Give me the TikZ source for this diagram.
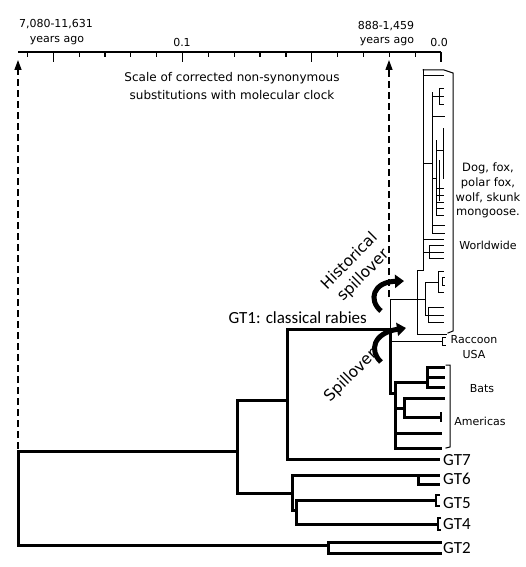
\documentclass[tikz,border=0pt]{standalone}
\usepackage{fontspec}
\setmainfont{DejaVu Sans}
\newfontfamily\gtfont{Carlito}
\usetikzlibrary{arrows.meta}
\begin{document}
\begin{tikzpicture}[x=1pt,y=-1pt,
  thk/.style={line width=3pt,line cap=rect,line join=miter},
  thn/.style={line width=1pt,line cap=rect},
  axisline/.style={line width=1.4pt},
  dasharrow/.style={line width=1.3pt,dash pattern=on 7pt off 4pt,-{Triangle[length=10pt,width=7pt]}},
  spill/.style={line width=5pt,-{Triangle[length=9pt,width=13pt]}},
  lbl/.style={font=\fontsize{11}{11.8}\selectfont,inner sep=0pt,align=center},
  gt/.style={font=\gtfont\fontsize{17}{19}\selectfont,anchor=west,inner sep=0pt},
  rot/.style={font=\fontsize{15.5}{20}\selectfont,inner sep=0pt,align=center,rotate=45}]
\useasboundingbox (0,0) rectangle (525,567);
% axis
\draw[axisline] (18,52) -- (441,52);
\foreach \i in {1,...,16} {\draw[line width=1.2pt] ({441-25.85*\i},52) -- ++(0,5);}
\foreach \i in {0,5,10,15} {\draw[line width=1.2pt] ({441-25.85*\i},52) -- ++(0,10);}
\node[lbl] (a1) at (56,24) {7,080-11,631};
\node[lbl] (a2) at (57,41) {years ago};
\node[lbl] (a3) at (182,42) {0.1};
\node[lbl] (a4) at (386,26) {888-1,459};
\node[lbl] (a5) at (387,42) {years ago};
\node[lbl] (a6) at (439,42) {0.0};
\node[lbl,font=\fontsize{12}{18}\selectfont] (scale) at (232,86) {Scale of corrected non-synonymous\\substitutions with molecular clock};
% dashed arrows
\coordinate (lb) at (18,449); \coordinate (lt) at (18,60);
\coordinate (rb) at (389,297); \coordinate (rt) at (389,60);
\draw[dasharrow] (lb) -- (lt);
\draw[dasharrow] (rb) -- (rt);
% main tree
\draw[thk] (237,451) -- (18,451) -- (18,545) -- (328,545);
\draw[thk] (440,542) -- (328,542) -- (328,553) -- (440,553);
\draw[thk] (287,400) -- (237,400) -- (237,493) -- (292,493);
\draw[thk] (438,459) -- (287,459) -- (287,329) -- (390,329) -- (390,393) -- (395,393);
\draw[thk] (438,475) -- (292,475) -- (292,510) -- (296,510);
\draw[thk] (418,475) -- (418,484) -- (438,484);
\draw[thk] (435,500) -- (296,500) -- (296,524) -- (437,524);
\draw[line width=2.5pt] (440,495) -- (436,495) -- (436,506) -- (440,506);
\draw[line width=2.5pt] (441,518) -- (438,518) -- (438,530) -- (441,530);
% bats
\draw[thk] (427,382) -- (395,382) -- (395,448) -- (440,448);
\draw[thk] (443,367) -- (427,367) -- (427,387) -- (443,387);
\draw[thk] (427,377) -- (443,377);
\draw[thk] (395,408) -- (404,408);
\draw[thk] (443,398) -- (404,398) -- (404,417) -- (440,417);
\draw[line width=2.5pt] (441,412) -- (441,422);
\draw[thk] (395,433) -- (440,433);
\draw[thn] (446,365) -- (450,365) -- (450,447) -- (446,448);
% raccoon
\draw[thn] (390,299) -- (390,329);
\draw[thn] (390,341) -- (442,341);
\draw[thn] (445,337) -- (442,337) -- (442,345) -- (445,345);
% worldwide clade
\draw[thn] (390,299) -- (425,299);
\draw[thn] (417,270) -- (417,334) -- (446,334);
\draw[thn] (417,270) -- (423,270);
\draw[thn] (423,70) -- (423,270);
\draw[thn] (423,70) -- (444,70) -- (453,73) -- (453,331) -- (448,333);
\draw[thn] (423,76) -- (443,76);
\draw[thn] (423,163) -- (432,163);
\draw[thn] (432,93) -- (432,233);
\draw[thn] (432,97) -- (443,97);
\draw[thn] (443,89) -- (439,89) -- (439,105) -- (443,105);
\draw[thn] (432,117) -- (444,117);
\draw[thn] (436,150) -- (443,150);
\draw[thn] (443,128) -- (443,178);
\draw[thn] (432,178) -- (436,178);
\draw[thn] (436,140) -- (436,215);
\draw[thn] (439,160) -- (439,200);
\foreach \yy in {188,195,202,208,215} {\draw[thn] (436,\yy) -- (443,\yy);}
\draw[thn] (432,225) -- (444,225);
\draw[thn] (432,233) -- (444,233);
\draw[thn] (423,239) -- (443,239);
\draw[thn] (423,252) -- (429,252);
\draw[thn] (429,245) -- (429,258);
\foreach \yy in {245,252,258} {\draw[thn] (429,\yy) -- (443,\yy);}
\draw[thn] (425,282) -- (425,315);
\draw[thn] (425,282) -- (438,282);
\draw[thn] (443,271) -- (438,271) -- (438,292) -- (443,292);
\draw[thn] (444,277) -- (442,277) -- (442,285) -- (444,285);
\draw[thn] (425,315) -- (428,315);
\draw[thn] (428,307) -- (428,322);
\foreach \yy in {307,315,322} {\draw[thn] (428,\yy) -- (443,\yy);}
% spillover arrows
\draw[spill] (381,311) .. controls (368,300) and (373,282) .. (404,281);
\draw[spill] (381,362) .. controls (369,351) and (373,333) .. (406,328);
% labels
\node[lbl,font=\fontsize{11.5}{14.7}\selectfont] (dog) at (488,190.5) {Dog, fox,\\polar fox,\\wolf, skunk\\mongoose.};
\node[lbl] (ww) at (488,245) {Worldwide};
\node[lbl] (rac) at (474,340) {Raccoon};
\node[lbl] (usa) at (474,354) {USA};
\node[lbl] (bats) at (482,389) {Bats};
\node[lbl] (am) at (480,421) {Americas};
\node[gt,anchor=base east] (gt1) at (367,323) {GT1: classical rabies};
\node[gt] (gt7) at (443,460) {GT7};
\node[gt] (gt6) at (443,479) {GT6};
\node[gt] (gt5) at (443,503) {GT5};
\node[gt] (gt4) at (443,524) {GT4};
\node[gt] (gt2) at (443,548) {GT2};
\node[rot] (hist) at (357,268.5) {Historical\\spillover};
\node[rot] (sp) at (351,376) {Spillover};
\end{tikzpicture}
\end{document}
